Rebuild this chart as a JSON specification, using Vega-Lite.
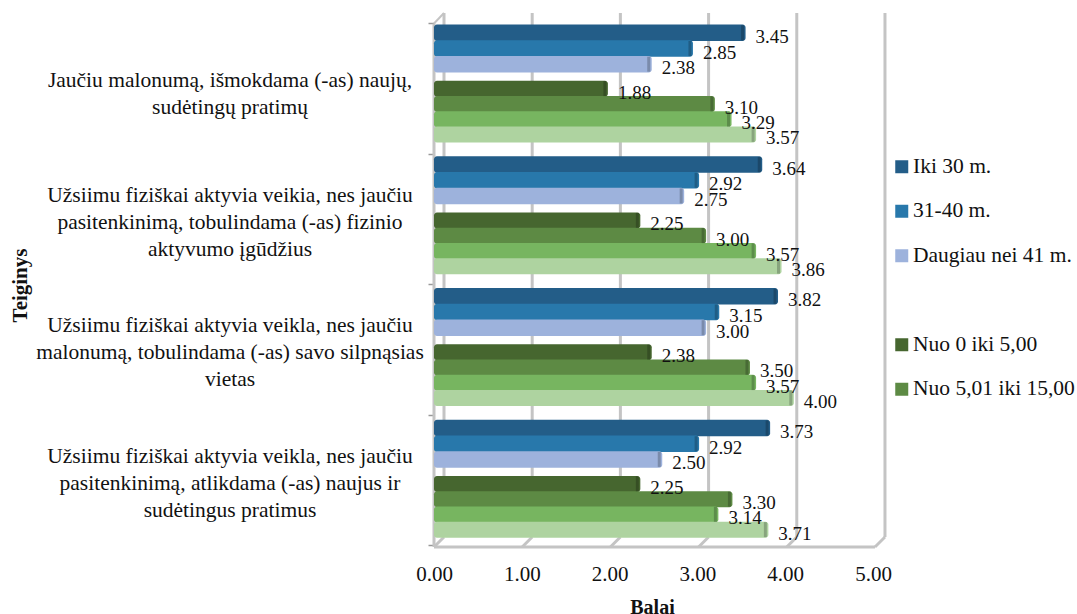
{
"$schema":"https://vega.github.io/schema/vega-lite/v6.json",
"autosize":{"type":"none"},
"padding":{"left":434,"top":13,"right":190,"bottom":63},
"width":453,"height":538,
"background":"white",
"config":{"view":{"stroke":null},"font":"Liberation Serif","text":{"font":"Liberation Serif"}},
"datasets":{
"rows":[
{"statement":"S1","series":"Iki 30 m.","group":"age","value":3.45},
{"statement":"S1","series":"31-40 m.","group":"age","value":2.85},
{"statement":"S1","series":"Daugiau nei 41 m.","group":"age","value":2.38},
{"statement":"S1","series":"Nuo 0 iki 5,00","group":"exp","value":1.88},
{"statement":"S1","series":"Nuo 5,01 iki 15,00","group":"exp","value":3.10},
{"statement":"S1","series":"Nuo 15,01 iki 25,00","group":"exp","value":3.29},
{"statement":"S1","series":"Daugiau nei 25,00","group":"exp","value":3.57},
{"statement":"S2","series":"Iki 30 m.","group":"age","value":3.64},
{"statement":"S2","series":"31-40 m.","group":"age","value":2.92},
{"statement":"S2","series":"Daugiau nei 41 m.","group":"age","value":2.75},
{"statement":"S2","series":"Nuo 0 iki 5,00","group":"exp","value":2.25},
{"statement":"S2","series":"Nuo 5,01 iki 15,00","group":"exp","value":3.00},
{"statement":"S2","series":"Nuo 15,01 iki 25,00","group":"exp","value":3.57},
{"statement":"S2","series":"Daugiau nei 25,00","group":"exp","value":3.86},
{"statement":"S3","series":"Iki 30 m.","group":"age","value":3.82},
{"statement":"S3","series":"31-40 m.","group":"age","value":3.15},
{"statement":"S3","series":"Daugiau nei 41 m.","group":"age","value":3.00},
{"statement":"S3","series":"Nuo 0 iki 5,00","group":"exp","value":2.38},
{"statement":"S3","series":"Nuo 5,01 iki 15,00","group":"exp","value":3.50},
{"statement":"S3","series":"Nuo 15,01 iki 25,00","group":"exp","value":3.57},
{"statement":"S3","series":"Daugiau nei 25,00","group":"exp","value":4.00},
{"statement":"S4","series":"Iki 30 m.","group":"age","value":3.73},
{"statement":"S4","series":"31-40 m.","group":"age","value":2.92},
{"statement":"S4","series":"Daugiau nei 41 m.","group":"age","value":2.50},
{"statement":"S4","series":"Nuo 0 iki 5,00","group":"exp","value":2.25},
{"statement":"S4","series":"Nuo 5,01 iki 15,00","group":"exp","value":3.30},
{"statement":"S4","series":"Nuo 15,01 iki 25,00","group":"exp","value":3.14},
{"statement":"S4","series":"Daugiau nei 25,00","group":"exp","value":3.71}
],
"ticks":[{"tick":0,"front":-0.1134},{"tick":1,"front":0.8866},{"tick":2,"front":1.8866},{"tick":3,"front":2.8866},{"tick":4,"front":3.8866},{"tick":5,"front":4.8866}],
"labels":[
{"s":"Jaučiu malonumą, išmokdama (-as) naujų,|sudėtingų pratimų","v":0,"lines":2},
{"s":"Užsiimu fiziškai aktyvia veikia, nes jaučiu|pasitenkinimą, tobulindama (-as) fizinio|aktyvumo įgūdžius","v":0,"lines":3},
{"s":"Užsiimu fiziškai aktyvia veikla, nes jaučiu|malonumą, tobulindama (-as) savo silpnąsias|vietas","v":0,"lines":3},
{"s":"Užsiimu fiziškai aktyvia veikla, nes jaučiu|pasitenkinimą, atlikdama (-as) naujus ir|sudėtingus pratimus","v":0,"lines":3}
]
},
"resolve":{"scale":{"x":"independent","y":"independent","yOffset":"independent"}},
"layer":[
{"data":{"name":"ticks"},"mark":{"type":"rule","color":"#c4c4c4","strokeWidth":3},
"encoding":{"x":{"field":"tick","type":"quantitative","axis":null,"scale":{"domain":[-0.1134,5.023],"nice":false,"zero":false}},
"y":{"datum":0,"type":"quantitative","axis":null,"scale":{"domain":[-0.0267,1],"nice":false,"zero":false}},"y2":{"datum":1}}},
{"data":{"name":"ticks"},"mark":{"type":"rule","color":"#c4c4c4","strokeWidth":3},
"encoding":{"x":{"field":"tick","type":"quantitative","axis":null,"scale":{"domain":[-0.1134,5.023],"nice":false,"zero":false}},"x2":{"field":"front"},
"y":{"datum":0,"type":"quantitative","axis":null,"scale":{"domain":[-0.0267,1],"nice":false,"zero":false}},"y2":{"datum":-0.019}}},
{"data":{"values":[{"a":-0.1134,"b":4.8866}]},"mark":{"type":"rule","color":"#c4c4c4","strokeWidth":3},
"encoding":{"x":{"field":"a","type":"quantitative","axis":null,"scale":{"domain":[-0.1134,5.023],"nice":false,"zero":false}},"x2":{"field":"b"},
"y":{"datum":-0.019,"type":"quantitative","axis":null,"scale":{"domain":[-0.0267,1],"nice":false,"zero":false}}}},
{"data":{"values":[{"a":-0.1134}]},"mark":{"type":"rule","color":"#c4c4c4","strokeWidth":3},
"encoding":{"x":{"field":"a","type":"quantitative","axis":null,"scale":{"domain":[-0.1134,5.023],"nice":false,"zero":false}},
"y":{"datum":-0.019,"type":"quantitative","axis":null,"scale":{"domain":[-0.0267,1],"nice":false,"zero":false}},"y2":{"datum":0.98}}},
{"data":{"values":[{"a":-0.1134,"b":0}]},"mark":{"type":"rule","color":"#c4c4c4","strokeWidth":2},
"encoding":{"x":{"field":"a","type":"quantitative","axis":null,"scale":{"domain":[-0.1134,5.023],"nice":false,"zero":false}},"x2":{"field":"b"},
"y":{"datum":0.98,"type":"quantitative","axis":null,"scale":{"domain":[-0.0267,1],"nice":false,"zero":false}},"y2":{"datum":1}}},

{"data":{"name":"rows"},"transform":[{"filter":"datum.group=='age'"}],"mark":{"type":"bar","cornerRadius":3,"height":16.5},
"encoding":{
"x":{"field":"value","type":"quantitative","axis":null,"scale":{"domain":[-0.1026,5.0627],"nice":false,"zero":false}},"x2":{"datum":-0.1026},
"y":{"field":"statement","type":"nominal","axis":null,"scale":{"type":"band","domain":["S1","S2","S3","S4"],"range":[4,531],"paddingInner":0,"paddingOuter":0}},
"yOffset":{"field":"series","type":"nominal","scale":{"type":"band","domain":["Iki 30 m.","31-40 m.","Daugiau nei 41 m."],"range":[8,55],"paddingInner":0,"paddingOuter":0}},
"color":{"field":"series","type":"nominal","scale":{"domain":["Iki 30 m.","31-40 m.","Daugiau nei 41 m.","\u00a0","Nuo 0 iki 5,00","Nuo 5,01 iki 15,00","Nuo 15,01 iki 25,00","Daugiau nei 25,00"],"range":["#235d88","#2878ab","#9db2dc","transparent","#46662f","#5d8a44","#77b560","#aed3a0"]},
"legend":{"title":null,"orient":"none","legendX":457,"legendY":143,"values":["Iki 30 m.","31-40 m.","Daugiau nei 41 m.","\u00a0","Nuo 0 iki 5,00","Nuo 5,01 iki 15,00"],"symbolType":"square","symbolSize":169,"symbolStrokeWidth":0,"labelFont":"Liberation Serif","labelFontSize":21.5,"labelColor":"#111","labelOffset":0.5,"rowPadding":21.5,"labelLimit":300,"padding":0}}
}},
{"data":{"name":"rows"},"transform":[{"filter":"datum.group=='exp'"}],"mark":{"type":"bar","cornerRadius":3,"height":16},
"encoding":{
"x":{"field":"value","type":"quantitative","axis":null,"scale":{"domain":[-0.1026,5.0627],"nice":false,"zero":false}},"x2":{"datum":-0.1026},
"y":{"field":"statement","type":"nominal","axis":null,"scale":{"type":"band","domain":["S1","S2","S3","S4"],"range":[4,531],"paddingInner":0,"paddingOuter":0}},
"yOffset":{"field":"series","type":"nominal","scale":{"type":"band","domain":["Nuo 0 iki 5,00","Nuo 5,01 iki 15,00","Nuo 15,01 iki 25,00","Daugiau nei 25,00"],"range":[64,125],"paddingInner":0,"paddingOuter":0}},
"color":{"field":"series","type":"nominal","scale":{"domain":["Iki 30 m.","31-40 m.","Daugiau nei 41 m.","\u00a0","Nuo 0 iki 5,00","Nuo 5,01 iki 15,00","Nuo 15,01 iki 25,00","Daugiau nei 25,00"],"range":["#235d88","#2878ab","#9db2dc","transparent","#46662f","#5d8a44","#77b560","#aed3a0"]}}
}},
{"data":{"name":"rows"},"transform":[{"filter":"datum.group=='age'"}],"mark":{"type":"tick","orient":"vertical","size":15,"thickness":3,"xOffset":-3,"color":"#000","opacity":0.22},
"encoding":{
"x":{"field":"value","type":"quantitative","axis":null,"scale":{"domain":[-0.1026,5.0627],"nice":false,"zero":false}},
"y":{"field":"statement","type":"nominal","axis":null,"scale":{"type":"band","domain":["S1","S2","S3","S4"],"range":[4,531],"paddingInner":0,"paddingOuter":0}},
"yOffset":{"field":"series","type":"nominal","scale":{"type":"band","domain":["Iki 30 m.","31-40 m.","Daugiau nei 41 m."],"range":[8,55],"paddingInner":0,"paddingOuter":0}}
}},
{"data":{"name":"rows"},"transform":[{"filter":"datum.group=='exp'"}],"mark":{"type":"tick","orient":"vertical","size":15,"thickness":3,"xOffset":-3,"color":"#000","opacity":0.22},
"encoding":{
"x":{"field":"value","type":"quantitative","axis":null,"scale":{"domain":[-0.1026,5.0627],"nice":false,"zero":false}},
"y":{"field":"statement","type":"nominal","axis":null,"scale":{"type":"band","domain":["S1","S2","S3","S4"],"range":[4,531],"paddingInner":0,"paddingOuter":0}},
"yOffset":{"field":"series","type":"nominal","scale":{"type":"band","domain":["Nuo 0 iki 5,00","Nuo 5,01 iki 15,00","Nuo 15,01 iki 25,00","Daugiau nei 25,00"],"range":[64,125],"paddingInner":0,"paddingOuter":0}}
}},
{"data":{"name":"rows"},"transform":[{"filter":"datum.group=='age'"}],"mark":{"type":"text","align":"left","dx":10,"dy":4,"fontSize":19,"font":"Liberation Serif","color":"#111"},
"encoding":{"text":{"field":"value","type":"quantitative","format":".2f"},
"x":{"field":"value","type":"quantitative","axis":null,"scale":{"domain":[-0.1026,5.0627],"nice":false,"zero":false}},
"y":{"field":"statement","type":"nominal","axis":null,"scale":{"type":"band","domain":["S1","S2","S3","S4"],"range":[4,531],"paddingInner":0,"paddingOuter":0}},
"yOffset":{"field":"series","type":"nominal","scale":{"type":"band","domain":["Iki 30 m.","31-40 m.","Daugiau nei 41 m."],"range":[8,55],"paddingInner":0,"paddingOuter":0}}
}},
{"data":{"name":"rows"},"transform":[{"filter":"datum.group=='exp'"}],"mark":{"type":"text","align":"left","dx":10,"dy":4,"fontSize":19,"font":"Liberation Serif","color":"#111"},
"encoding":{"text":{"field":"value","type":"quantitative","format":".2f"},
"x":{"field":"value","type":"quantitative","axis":null,"scale":{"domain":[-0.1026,5.0627],"nice":false,"zero":false}},
"y":{"field":"statement","type":"nominal","axis":null,"scale":{"type":"band","domain":["S1","S2","S3","S4"],"range":[4,531],"paddingInner":0,"paddingOuter":0}},
"yOffset":{"field":"series","type":"nominal","scale":{"type":"band","domain":["Nuo 0 iki 5,00","Nuo 5,01 iki 15,00","Nuo 15,01 iki 25,00","Daugiau nei 25,00"],"range":[64,125],"paddingInner":0,"paddingOuter":0}}
}},
{"data":{"name":"labels"},"transform":[{"filter":"datum.lines==2"}],
"mark":{"type":"text","align":"center","baseline":"middle","lineBreak":"|","lineHeight":27,"dx":-204,"dy":-7,"fontSize":21.5,"font":"Liberation Serif","color":"#111"},
"encoding":{"text":{"field":"s","type":"nominal"},
"x":{"field":"v","type":"quantitative","axis":null,"scale":{"domain":[0,5.159],"nice":false,"zero":false}},
"y":{"field":"s","type":"nominal","axis":null,"scale":{"type":"band","domain":[
"Jaučiu malonumą, išmokdama (-as) naujų,|sudėtingų pratimų",
"Užsiimu fiziškai aktyvia veikia, nes jaučiu|pasitenkinimą, tobulindama (-as) fizinio|aktyvumo įgūdžius",
"Užsiimu fiziškai aktyvia veikla, nes jaučiu|malonumą, tobulindama (-as) savo silpnąsias|vietas",
"Užsiimu fiziškai aktyvia veikla, nes jaučiu|pasitenkinimą, atlikdama (-as) naujus ir|sudėtingus pratimus"],"range":[10,532],"paddingInner":0,"paddingOuter":0}}
}},
{"data":{"name":"labels"},"transform":[{"filter":"datum.lines==3"}],
"mark":{"type":"text","align":"center","baseline":"middle","lineBreak":"|","lineHeight":27,"dx":-204,"dy":-23,"fontSize":21.5,"font":"Liberation Serif","color":"#111"},
"encoding":{"text":{"field":"s","type":"nominal"},
"x":{"field":"v","type":"quantitative","axis":null,"scale":{"domain":[0,5.159],"nice":false,"zero":false}},
"y":{"field":"s","type":"nominal","axis":null,"scale":{"type":"band","domain":[
"Jaučiu malonumą, išmokdama (-as) naujų,|sudėtingų pratimų",
"Užsiimu fiziškai aktyvia veikia, nes jaučiu|pasitenkinimą, tobulindama (-as) fizinio|aktyvumo įgūdžius",
"Užsiimu fiziškai aktyvia veikla, nes jaučiu|malonumą, tobulindama (-as) savo silpnąsias|vietas",
"Užsiimu fiziškai aktyvia veikla, nes jaučiu|pasitenkinimą, atlikdama (-as) naujus ir|sudėtingus pratimus"],"range":[10,532],"paddingInner":0,"paddingOuter":0}}
}},
{"data":{"name":"labels"},
"mark":{"type":"point","opacity":0},
"encoding":{
"x":{"field":"v","type":"quantitative","scale":{"domain":[0,5.159],"nice":false,"zero":false},
"axis":{"orient":"bottom","values":[0,1,2,3,4,5],"format":".2f","title":"Balai","domain":false,"ticks":false,"grid":false,"labelFlush":false,"labelFont":"Liberation Serif","labelFontSize":21,"labelColor":"#111","labelPadding":12,"labelOverlap":false,"titleFont":"Liberation Serif","titleFontSize":20,"titleFontWeight":"bold","titleColor":"#111","titleX":218,"titleY":46}},
"y":{"field":"s","type":"nominal","scale":{"type":"band","domain":[
"Jaučiu malonumą, išmokdama (-as) naujų,|sudėtingų pratimų",
"Užsiimu fiziškai aktyvia veikia, nes jaučiu|pasitenkinimą, tobulindama (-as) fizinio|aktyvumo įgūdžius",
"Užsiimu fiziškai aktyvia veikla, nes jaučiu|malonumą, tobulindama (-as) savo silpnąsias|vietas",
"Užsiimu fiziškai aktyvia veikla, nes jaučiu|pasitenkinimą, atlikdama (-as) naujus ir|sudėtingus pratimus"],"range":[10,532],"paddingInner":0,"paddingOuter":0},
"axis":{"orient":"left","title":"Teiginys","domain":false,"ticks":true,"tickBand":"extent","tickSize":6,"tickColor":"#999999","tickWidth":1.5,"labels":false,"titleFont":"Liberation Serif","titleFontSize":21,"titleFontWeight":"bold","titleColor":"#111","titleX":-404,"titleY":272}}
}}
]
}
